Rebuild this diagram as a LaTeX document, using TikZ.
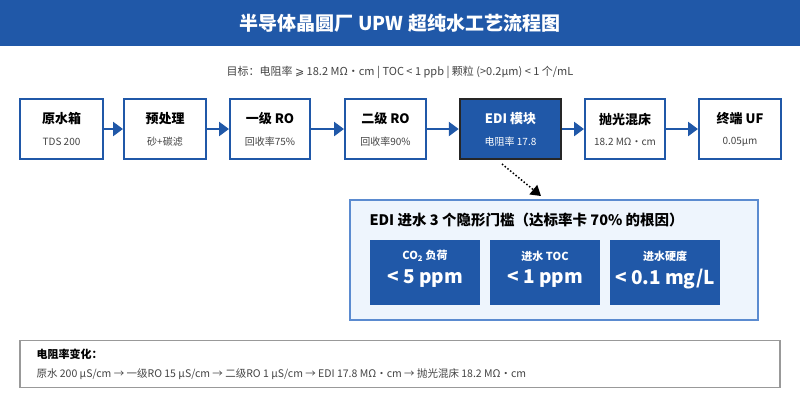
\documentclass[tikz,border=0pt]{standalone}
\usepackage{fontspec}
\setmainfont{Noto Sans CJK SC}
\newfontfamily\dvs{DejaVu Sans}
\usetikzlibrary{arrows.meta}
\definecolor{bl}{HTML}{2058A8}
\definecolor{pb}{HTML}{EEF5FD}
\definecolor{pe}{HTML}{5B8BD0}
\definecolor{gt}{HTML}{444444}
\begin{document}
\begin{tikzpicture}[x=1pt,y=-1pt,
 box/.style={draw=bl,line width=2pt,fill=white,minimum width=#1,minimum height=60,inner sep=0},
 ar/.style={bl,line width=2.5pt,-{Triangle[length=10pt,width=14pt]}},
 ib/.style={fill=bl,minimum width=110,minimum height=65,inner sep=0},
 it/.style={text=white,font=\bfseries\fontsize{11}{13}\selectfont},
 iv/.style={text=white,font=\bfseries\fontsize{19}{22}\selectfont}]
\useasboundingbox (0,0) rectangle (800,400);
\fill[white] (0,0) rectangle (800,400);
\fill[bl] (0,0) rectangle (800,46);
\node[text=white,font=\bfseries\fontsize{19}{21}\selectfont] (t) at (400,23) {半导体晶圆厂 UPW 超纯水工艺流程图};
\node[text=gt,font=\fontsize{11}{13}\selectfont] (s) at (400,72) {目标：电阻率 {\dvs ⩾} 18.2 MΩ・cm | TOC < 1 ppb | 颗粒 (>0.2μm) < 1 个/mL};
\def\bx#1#2#3#4#5{\node[box=#3] (#1) at (#2,129) {};
 \node[font=\bfseries\fontsize{13}{15}\selectfont] at (#2,119) {#4};
 \node[text=gt,font=\fontsize{10}{12}\selectfont] at (#2,142) {#5};}
\bx{a}{61.5}{83}{原水箱}{TDS 200}
\bx{b}{165}{82}{预处理}{砂+碳滤}
\bx{c}{270}{80}{一级 RO}{回收率75\%}
\bx{d}{385.5}{81}{二级 RO}{回收率90\%}
\node[draw=black!85,line width=2.5pt,fill=bl,minimum width=101,minimum height=60,inner sep=0] (e) at (510.5,129) {};
\node[text=white,font=\bfseries\fontsize{13}{15}\selectfont] at (510.5,119) {EDI 模块};
\node[text=white,font=\fontsize{10}{12}\selectfont] at (510.5,142) {电阻率 17.8};
\bx{f}{625}{80}{抛光混床}{18.2 MΩ・cm}
\bx{g}{740}{82}{终端 UF}{0.05μm}
\foreach \u/\v in {a/b,b/c,c/d,d/e,e/f,f/g} \draw[ar] (\u.east) -- (\v.west);
\node[draw=pe,line width=1.2pt,fill=pb,minimum width=408,minimum height=120,inner sep=0] (p) at (554,260) {};
\coordinate (q) at (541,196);
\draw[black,line width=1.5pt,dotted,-{Triangle[length=10pt,width=12pt]}] (502,164) -- (q);
\node[anchor=west,font=\bfseries\fontsize{14.5}{16}\selectfont] at (366,220) {EDI 进水 3 个隐形门槛（达标率卡 70\% 的根因）};
\node[ib] (i1) at (425,272.5) {};
\node[ib] (i2) at (545,272.5) {};
\node[ib] (i3) at (665,272.5) {};
\node[it] at (425,256) {CO\textsubscript{2} 负荷};
\node[it] at (545,256) {进水 TOC};
\node[it] at (665,256) {进水硬度};
\node[iv] at (425,279) {< 5 ppm};
\node[iv] at (545,279) {< 1 ppm};
\node[iv] at (665,279) {< 0.1 mg/L};
\node[draw=black!40,line width=1.5pt,fill=white,minimum width=760,minimum height=47,inner sep=0] (bt) at (400,364) {};
\node[anchor=west,font=\bfseries\fontsize{11}{13}\selectfont] at (33,354) {电阻率变化：};
\node[anchor=west,text=gt,font=\fontsize{10.5}{12}\selectfont] at (33,374) {原水 200 μS/cm → 一级RO 15 μS/cm → 二级RO 1 μS/cm → EDI 17.8 MΩ・cm → 抛光混床 18.2 MΩ・cm};
\end{tikzpicture}
\end{document}
